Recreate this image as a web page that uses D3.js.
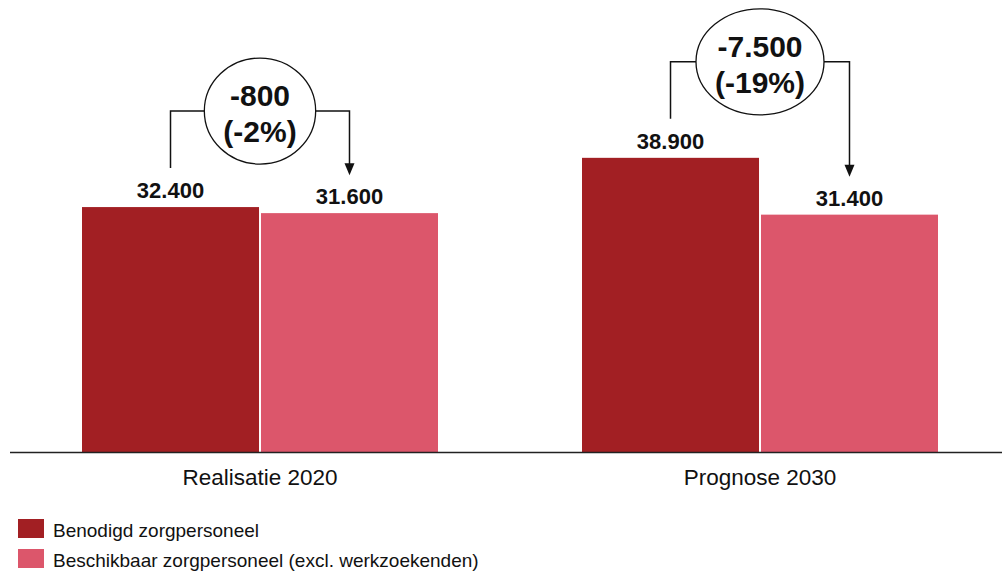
<!DOCTYPE html>
<html>
<head>
<meta charset="utf-8">
<script src="https://cdn.jsdelivr.net/npm/d3@7"></script>
<style>
  html, body { margin: 0; padding: 0; background: #fff; }
  svg { display: block; font-family: "Liberation Sans", Arial, Helvetica, sans-serif; }
</style>
</head>
<body>
<svg id="chart" width="1002" height="571"></svg>
<script>
// Zorgpersoneel: benodigd vs. beschikbaar
const categories = ["Realisatie 2020", "Prognose 2030"];
const seriesNames = ["Benodigd zorgpersoneel", "Beschikbaar zorgpersoneel (excl. werkzoekenden)"];
const benodigd = [32400, 38900];
const beschikbaar = [31600, 31400];
const colors = ["#a21f23", "#dc566b"];

const nl = d3.formatLocale({ decimal: ",", thousands: ".", grouping: [3], currency: ["€", ""] });
const fmt = nl.format(",");
const fmtSigned = v => (v < 0 ? "-" : "+") + fmt(Math.abs(v));

const W = 1002, H = 571;
const baseline = 452.5;
const svg = d3.select("#chart");

const x = d3.scaleBand().domain(categories).range([10, 1010]).paddingInner(0.288).paddingOuter(0.144);
const xs = d3.scaleBand().domain(seriesNames).range([0, x.bandwidth()]).paddingInner(0.011);
const y = d3.scaleLinear().domain([0, 60000]).range([baseline, -2]);

const rows = categories.map((c, i) => ({ cat: c, vals: [benodigd[i], beschikbaar[i]] }));

// bars
const groups = svg.selectAll("g.grp").data(rows).join("g")
  .attr("class", "grp")
  .attr("transform", d => `translate(${x(d.cat)},0)`);

groups.selectAll("rect").data(d => d.vals.map((v, j) => ({ v, s: seriesNames[j], j }))).join("rect")
  .attr("x", d => xs(d.s))
  .attr("width", xs.bandwidth())
  .attr("y", d => y(d.v))
  .attr("height", d => baseline - y(d.v))
  .attr("fill", d => colors[d.j]);

// value labels
groups.selectAll("text.val").data(d => d.vals.map((v, j) => ({ v, s: seriesNames[j] }))).join("text")
  .attr("class", "val")
  .attr("x", d => xs(d.s) + xs.bandwidth() / 2)
  .attr("y", d => y(d.v) - 9)
  .attr("text-anchor", "middle")
  .attr("font-size", 22)
  .attr("font-weight", "bold")
  .attr("fill", "#111")
  .text(d => fmt(d.v));

// x axis
const axis = svg.append("g").attr("transform", `translate(0,${baseline})`)
  .call(d3.axisBottom(x).tickSize(0).tickPadding(0));
axis.select(".domain").remove();
axis.append("line").attr("x1", 10).attr("x2", W).attr("stroke", "#222").attr("stroke-width", 1.5);
axis.selectAll(".tick text")
  .attr("dy", null).attr("y", 32.5)
  .attr("font-size", 22.5)
  .attr("font-family", "Liberation Sans, Arial, sans-serif")
  .attr("fill", "#111");

// difference brackets with bubbles
rows.forEach(d => {
  const [a, b] = d.vals;
  const xa = x(d.cat) + xs(seriesNames[0]) + xs.bandwidth() / 2;
  const xb = x(d.cat) + xs(seriesNames[1]) + xs.bandwidth() / 2;
  const cx = x(d.cat) + x.bandwidth() / 2;
  const cy = y(Math.max(a, b)) - 96;
  const diff = b - a;
  const pct = Math.round(diff / a * 100);
  const lines = [fmtSigned(diff), `(${pct < 0 ? "-" : "+"}${Math.abs(pct)}%)`];

  const g = svg.append("g");
  const t = g.append("text").attr("text-anchor", "middle")
    .attr("font-size", 30).attr("font-weight", "bold").attr("fill", "#111");
  lines.forEach((l, i) => t.append("tspan").attr("x", cx).attr("y", cy + (i === 0 ? -5 : 31)).text(l));
  const bb = t.node().getBBox();
  const rx = bb.width / 2 + 19, ry = 53;

  g.insert("ellipse", "text").attr("cx", cx).attr("cy", cy).attr("rx", rx).attr("ry", ry)
    .attr("fill", "#fff").attr("stroke", "#111").attr("stroke-width", 1.3);

  const tipY = y(b) - 38;
  g.append("path")
    .attr("d", `M${xa},${y(a) - 39}V${cy}H${cx - rx}`)
    .attr("fill", "none").attr("stroke", "#111").attr("stroke-width", 1.5);
  g.append("path")
    .attr("d", `M${cx + rx},${cy}H${xb}V${tipY - 10}`)
    .attr("fill", "none").attr("stroke", "#111").attr("stroke-width", 1.5);
  g.append("path")
    .attr("d", `M${xb - 5},${tipY - 12}L${xb + 5},${tipY - 12}L${xb},${tipY}Z`)
    .attr("fill", "#111");
});

// legend
const legend = svg.append("g").attr("transform", "translate(18,519)");
const li = legend.selectAll("g").data(seriesNames).join("g")
  .attr("transform", (d, i) => `translate(0,${i * 30})`);
li.append("rect").attr("width", 26).attr("height", 19).attr("fill", (d, i) => colors[i]);
li.append("text").attr("x", 35).attr("y", 17.5).attr("font-size", 19).attr("fill", "#111").text(d => d);
</script>
</body>
</html>
